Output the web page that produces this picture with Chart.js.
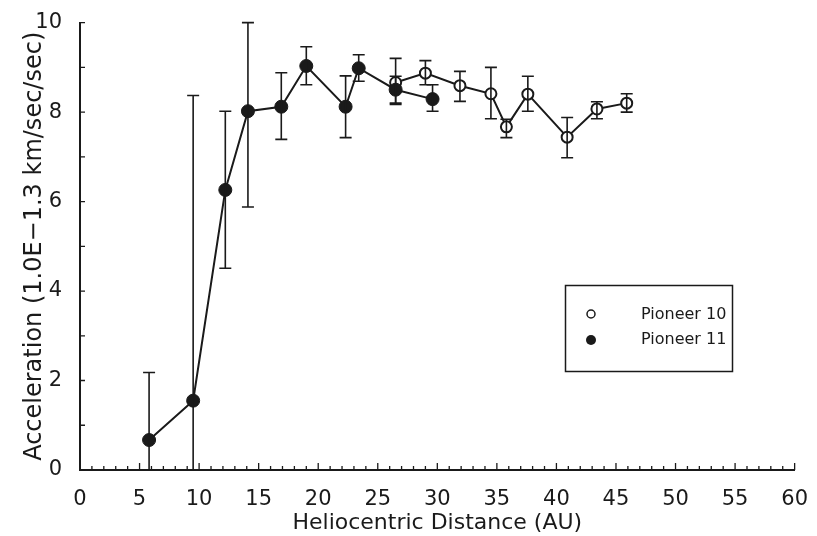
<!doctype html>
<html lang="en">
<head>
    <meta charset="UTF-8">
    <title>Pioneer acceleration</title>
    <script src="https://cdn.jsdelivr.net/npm/chart.js"></script>
    <style>
        html, body { margin: 0; padding: 0; background: #fff; }
        #wrap { width: 817px; height: 536px; }
    </style>
</head>
<body>
<div id="wrap"><canvas id="myChart" width="817" height="536"></canvas></div>

<script>
    // Pioneer 10 (open circles)
    var distP10 = [26.5, 29.0, 31.9, 34.5, 35.8, 37.6, 40.9, 43.4, 45.9];
    var accP10  = [8.66, 8.87, 8.59, 8.41, 7.67, 8.40, 7.44, 8.07, 8.20];
    var hiP10   = [9.20, 9.15, 8.91, 9.00, 7.84, 8.80, 7.88, 8.23, 8.41];
    var loP10   = [8.17, 8.61, 8.24, 7.85, 7.43, 8.02, 6.98, 7.85, 8.00];

    // Pioneer 11 (filled circles)
    var distP11 = [5.8, 9.5, 12.2, 14.1, 16.9, 19.0, 22.3, 23.4, 26.5, 29.6];
    var accP11  = [0.67, 1.55, 6.26, 8.02, 8.12, 9.03, 8.12, 8.98, 8.50, 8.29];
    var hiP11   = [2.18, 8.37, 8.02, 10.0, 8.88, 9.46, 8.81, 9.28, 8.80, 8.61];
    var loP11   = [0, 0, 4.51, 5.88, 7.39, 8.61, 7.43, 8.69, 8.20, 8.02];

    var seriesNames = ['Pioneer 10', 'Pioneer 11'];
    var xTitle = 'Heliocentric Distance (AU)';
    var yTitle = 'Acceleration (1.0E\u22121.3 km/sec/sec)';

    var FONT = "'DejaVu Sans', sans-serif";
    var INK = '#1a1a1a';

    function toPoints(xs, ys, hi, lo) {
        return xs.map(function (x, i) { return {x: x, y: ys[i], hi: hi[i], lo: lo[i]}; });
    }

    // error bars, drawn after the lines so they pass through the open circles
    var errorBars = {
        id: 'errorBars',
        afterDatasetsDraw: function (chart) {
            var ctx = chart.ctx, xs = chart.scales.x, ys = chart.scales.y;
            ctx.save();
            ctx.strokeStyle = INK;
            ctx.lineWidth = 1.6;
            chart.data.datasets.forEach(function (ds) {
                ds.data.forEach(function (p) {
                    var px = xs.getPixelForValue(p.x);
                    var top = ys.getPixelForValue(p.hi);
                    var bot = ys.getPixelForValue(p.lo);
                    ctx.beginPath();
                    ctx.moveTo(px, top); ctx.lineTo(px, bot);
                    ctx.moveTo(px - 6, top); ctx.lineTo(px + 6, top);
                    if (p.lo > 0) { ctx.moveTo(px - 6, bot); ctx.lineTo(px + 6, bot); }
                    ctx.stroke();
                });
            });
            ctx.restore();
        }
    };

    // inward tick marks like the original plot, plus the boxed legend
    var innerTicks = {
        id: 'innerTicks',
        afterDraw: function (chart) {
            var ctx = chart.ctx, xs = chart.scales.x, ys = chart.scales.y;
            var a = chart.chartArea;
            ctx.save();
            ctx.strokeStyle = INK;
            ctx.lineWidth = 1.3;
            ctx.beginPath();
            for (var v = 0; v <= 10; v++) {
                var py = ys.getPixelForValue(v);
                ctx.moveTo(a.left, py); ctx.lineTo(a.left + 5, py);
            }
            for (var u = 1; u <= 60; u++) {
                var px = xs.getPixelForValue(u);
                var len = (u % 5 === 0) ? 7 : 4;
                ctx.moveTo(px, a.bottom); ctx.lineTo(px, a.bottom - len);
            }
            ctx.stroke();

            ctx.lineWidth = 1.5;
            ctx.strokeRect(565.5, 285.5, 167, 86);
            ctx.font = '16px ' + FONT;
            ctx.fillStyle = INK;
            ctx.textBaseline = 'middle';
            ctx.fillText(seriesNames[0], 641, 315);
            ctx.fillText(seriesNames[1], 641, 340);
            ctx.beginPath();
            ctx.arc(591, 314, 4, 0, Math.PI * 2);
            ctx.fillStyle = '#fff';
            ctx.fill();
            ctx.lineWidth = 1.5;
            ctx.stroke();
            ctx.beginPath();
            ctx.arc(591, 340, 5, 0, Math.PI * 2);
            ctx.fillStyle = INK;
            ctx.fill();
            ctx.restore();
        }
    };

    var ctx = document.getElementById('myChart');

    var myChart = new Chart(ctx, {
        type: 'scatter',
        data: {
            datasets: [{
                label: seriesNames[1],
                data: toPoints(distP11, accP11, hiP11, loP11),
                showLine: true,
                borderColor: INK,
                borderWidth: 2,
                pointRadius: 6.5,
                pointBackgroundColor: INK,
                pointBorderColor: INK,
                pointBorderWidth: 1,
                order: 1
            }, {
                label: seriesNames[0],
                data: toPoints(distP10, accP10, hiP10, loP10),
                showLine: true,
                borderColor: INK,
                borderWidth: 2,
                pointRadius: 5.5,
                pointBackgroundColor: '#fff',
                pointBorderColor: INK,
                pointBorderWidth: 2,
                order: 2
            }]
        },
        options: {
            responsive: false,
            animation: false,
            events: [],
            layout: { padding: { top: 19, right: 20, left: 0, bottom: 0 } },
            plugins: {
                legend: { display: false },
                tooltip: { enabled: false }
            },
            scales: {
                x: {
                    type: 'linear',
                    min: 0, max: 60,
                    grid: { display: false },
                    border: { display: true, color: INK, width: 2 },
                    ticks: {
                        stepSize: 5, maxRotation: 0, autoSkip: false,
                        color: INK, padding: 9,
                        font: { family: FONT, size: 21 }
                    },
                    title: {
                        display: true, text: xTitle, color: INK,
                        padding: { top: 0, bottom: 0 },
                        font: { family: FONT, size: 22 }
                    },
                    afterFit: function (scale) { scale.height = 66; }
                },
                y: {
                    type: 'linear',
                    min: 0, max: 10,
                    grid: { display: false },
                    border: { display: true, color: INK, width: 2 },
                    ticks: {
                        stepSize: 1, autoSkip: false, color: INK, padding: 10,
                        font: { family: FONT, size: 21 },
                        callback: function (v) { return v % 2 === 0 ? v : ''; }
                    },
                    title: {
                        display: true, text: yTitle, color: INK,
                        padding: { top: 20, bottom: 0 },
                        font: { family: FONT, size: 24 }
                    },
                    afterFit: function (scale) { scale.width = 80; }
                }
            }
        },
        plugins: [errorBars, innerTicks]
    });
</script>
</body>
</html>
